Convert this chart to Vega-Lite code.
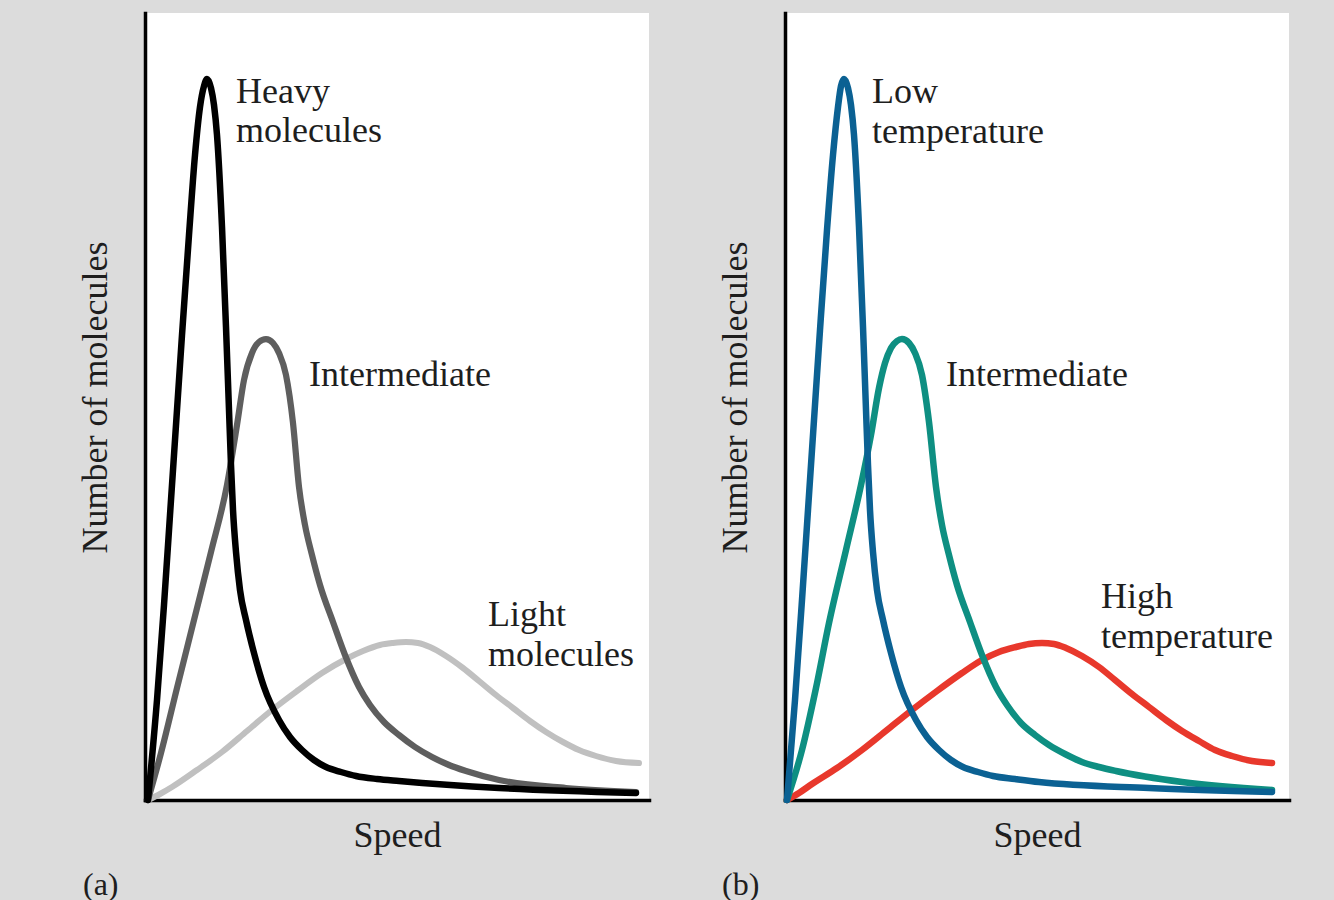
{
  "$schema": "https://vega.github.io/schema/vega-lite/v6.json",
  "background": "#dcdcdc",
  "padding": {"left": 77, "top": 13, "right": 60, "bottom": 30},
  "bounds": "flush",
  "spacing": 136,
  "config": {
    "view": {"fill": "white", "stroke": null},
    "font": "Liberation Serif",
    "axis": {
      "domainColor": "black", "domainWidth": 3.5, "domainCap": "square",
      "ticks": false, "labels": false, "grid": false,
      "titleFont": "Liberation Serif", "titleFontSize": 36, "titleFontWeight": "normal", "titleColor": "#1e1e1e"
    },
    "axisY": {"titlePadding": 31, "titleY": 384},
    "axisX": {"titlePadding": 18}
  },
  "resolve": {"scale": {"color": "independent", "strokeWidth": "independent"}},
  "datasets": {
    "curves": [
      {"panel": "a", "series": "Light", "speed": 3, "count": 0},
      {"panel": "a", "series": "Light", "speed": 15, "count": 6},
      {"panel": "a", "series": "Light", "speed": 27, "count": 13},
      {"panel": "a", "series": "Light", "speed": 52, "count": 30},
      {"panel": "a", "series": "Light", "speed": 77, "count": 48},
      {"panel": "a", "series": "Light", "speed": 102, "count": 69},
      {"panel": "a", "series": "Light", "speed": 127, "count": 90},
      {"panel": "a", "series": "Light", "speed": 152, "count": 109},
      {"panel": "a", "series": "Light", "speed": 177, "count": 127},
      {"panel": "a", "series": "Light", "speed": 201, "count": 141},
      {"panel": "a", "series": "Light", "speed": 218, "count": 149},
      {"panel": "a", "series": "Light", "speed": 235, "count": 155},
      {"panel": "a", "series": "Light", "speed": 248, "count": 157},
      {"panel": "a", "series": "Light", "speed": 261, "count": 158},
      {"panel": "a", "series": "Light", "speed": 273, "count": 157},
      {"panel": "a", "series": "Light", "speed": 285, "count": 153},
      {"panel": "a", "series": "Light", "speed": 301, "count": 144},
      {"panel": "a", "series": "Light", "speed": 318, "count": 132},
      {"panel": "a", "series": "Light", "speed": 334, "count": 119},
      {"panel": "a", "series": "Light", "speed": 351, "count": 105},
      {"panel": "a", "series": "Light", "speed": 368, "count": 92},
      {"panel": "a", "series": "Light", "speed": 385, "count": 79},
      {"panel": "a", "series": "Light", "speed": 401, "count": 68},
      {"panel": "a", "series": "Light", "speed": 418, "count": 58},
      {"panel": "a", "series": "Light", "speed": 434, "count": 50},
      {"panel": "a", "series": "Light", "speed": 451, "count": 44},
      {"panel": "a", "series": "Light", "speed": 471, "count": 39},
      {"panel": "a", "series": "Light", "speed": 494, "count": 37},

      {"panel": "a", "series": "Intermediate", "speed": 3, "count": 0},
      {"panel": "a", "series": "Intermediate", "speed": 16, "count": 47},
      {"panel": "a", "series": "Intermediate", "speed": 32, "count": 112},
      {"panel": "a", "series": "Intermediate", "speed": 49, "count": 180},
      {"panel": "a", "series": "Intermediate", "speed": 66, "count": 248},
      {"panel": "a", "series": "Intermediate", "speed": 82, "count": 315},
      {"panel": "a", "series": "Intermediate", "speed": 92, "count": 375},
      {"panel": "a", "series": "Intermediate", "speed": 99, "count": 420},
      {"panel": "a", "series": "Intermediate", "speed": 107, "count": 447},
      {"panel": "a", "series": "Intermediate", "speed": 114, "count": 458},
      {"panel": "a", "series": "Intermediate", "speed": 121, "count": 461},
      {"panel": "a", "series": "Intermediate", "speed": 128, "count": 457},
      {"panel": "a", "series": "Intermediate", "speed": 134, "count": 447},
      {"panel": "a", "series": "Intermediate", "speed": 141, "count": 425},
      {"panel": "a", "series": "Intermediate", "speed": 148, "count": 377},
      {"panel": "a", "series": "Intermediate", "speed": 154, "count": 313},
      {"panel": "a", "series": "Intermediate", "speed": 160, "count": 275},
      {"panel": "a", "series": "Intermediate", "speed": 167, "count": 245},
      {"panel": "a", "series": "Intermediate", "speed": 175, "count": 215},
      {"panel": "a", "series": "Intermediate", "speed": 188, "count": 178},
      {"panel": "a", "series": "Intermediate", "speed": 200, "count": 145},
      {"panel": "a", "series": "Intermediate", "speed": 214, "count": 113},
      {"panel": "a", "series": "Intermediate", "speed": 225, "count": 95},
      {"panel": "a", "series": "Intermediate", "speed": 239, "count": 78},
      {"panel": "a", "series": "Intermediate", "speed": 254, "count": 65},
      {"panel": "a", "series": "Intermediate", "speed": 270, "count": 53},
      {"panel": "a", "series": "Intermediate", "speed": 287, "count": 43},
      {"panel": "a", "series": "Intermediate", "speed": 304, "count": 35},
      {"panel": "a", "series": "Intermediate", "speed": 321, "count": 29},
      {"panel": "a", "series": "Intermediate", "speed": 354, "count": 20},
      {"panel": "a", "series": "Intermediate", "speed": 421, "count": 12},
      {"panel": "a", "series": "Intermediate", "speed": 491, "count": 8},

      {"panel": "a", "series": "Heavy", "speed": 3, "count": 0},
      {"panel": "a", "series": "Heavy", "speed": 12, "count": 100},
      {"panel": "a", "series": "Heavy", "speed": 19, "count": 195},
      {"panel": "a", "series": "Heavy", "speed": 25, "count": 285},
      {"panel": "a", "series": "Heavy", "speed": 31, "count": 375},
      {"panel": "a", "series": "Heavy", "speed": 37, "count": 465},
      {"panel": "a", "series": "Heavy", "speed": 44, "count": 565},
      {"panel": "a", "series": "Heavy", "speed": 50, "count": 645},
      {"panel": "a", "series": "Heavy", "speed": 55, "count": 693},
      {"panel": "a", "series": "Heavy", "speed": 59, "count": 714},
      {"panel": "a", "series": "Heavy", "speed": 62, "count": 721},
      {"panel": "a", "series": "Heavy", "speed": 66, "count": 712},
      {"panel": "a", "series": "Heavy", "speed": 69, "count": 695},
      {"panel": "a", "series": "Heavy", "speed": 72, "count": 665},
      {"panel": "a", "series": "Heavy", "speed": 77, "count": 573},
      {"panel": "a", "series": "Heavy", "speed": 81, "count": 473},
      {"panel": "a", "series": "Heavy", "speed": 84, "count": 390},
      {"panel": "a", "series": "Heavy", "speed": 86, "count": 335},
      {"panel": "a", "series": "Heavy", "speed": 88, "count": 290},
      {"panel": "a", "series": "Heavy", "speed": 91, "count": 248},
      {"panel": "a", "series": "Heavy", "speed": 95, "count": 210},
      {"panel": "a", "series": "Heavy", "speed": 101, "count": 180},
      {"panel": "a", "series": "Heavy", "speed": 109, "count": 147},
      {"panel": "a", "series": "Heavy", "speed": 119, "count": 113},
      {"panel": "a", "series": "Heavy", "speed": 134, "count": 80},
      {"panel": "a", "series": "Heavy", "speed": 145, "count": 63},
      {"panel": "a", "series": "Heavy", "speed": 157, "count": 50},
      {"panel": "a", "series": "Heavy", "speed": 169, "count": 40},
      {"panel": "a", "series": "Heavy", "speed": 181, "count": 33},
      {"panel": "a", "series": "Heavy", "speed": 196, "count": 28},
      {"panel": "a", "series": "Heavy", "speed": 211, "count": 24},
      {"panel": "a", "series": "Heavy", "speed": 232, "count": 21},
      {"panel": "a", "series": "Heavy", "speed": 254, "count": 19},
      {"panel": "a", "series": "Heavy", "speed": 354, "count": 12},
      {"panel": "a", "series": "Heavy", "speed": 491, "count": 7},

      {"panel": "b", "series": "High", "speed": 2, "count": 0},
      {"panel": "b", "series": "High", "speed": 14, "count": 7},
      {"panel": "b", "series": "High", "speed": 27, "count": 16},
      {"panel": "b", "series": "High", "speed": 52, "count": 32},
      {"panel": "b", "series": "High", "speed": 77, "count": 50},
      {"panel": "b", "series": "High", "speed": 102, "count": 70},
      {"panel": "b", "series": "High", "speed": 127, "count": 90},
      {"panel": "b", "series": "High", "speed": 152, "count": 109},
      {"panel": "b", "series": "High", "speed": 177, "count": 127},
      {"panel": "b", "series": "High", "speed": 197, "count": 140},
      {"panel": "b", "series": "High", "speed": 214, "count": 148},
      {"panel": "b", "series": "High", "speed": 231, "count": 153},
      {"panel": "b", "series": "High", "speed": 244, "count": 156},
      {"panel": "b", "series": "High", "speed": 257, "count": 157},
      {"panel": "b", "series": "High", "speed": 269, "count": 156},
      {"panel": "b", "series": "High", "speed": 281, "count": 152},
      {"panel": "b", "series": "High", "speed": 297, "count": 144},
      {"panel": "b", "series": "High", "speed": 314, "count": 133},
      {"panel": "b", "series": "High", "speed": 330, "count": 120},
      {"panel": "b", "series": "High", "speed": 347, "count": 106},
      {"panel": "b", "series": "High", "speed": 364, "count": 93},
      {"panel": "b", "series": "High", "speed": 381, "count": 80},
      {"panel": "b", "series": "High", "speed": 397, "count": 69},
      {"panel": "b", "series": "High", "speed": 414, "count": 59},
      {"panel": "b", "series": "High", "speed": 430, "count": 50},
      {"panel": "b", "series": "High", "speed": 447, "count": 44},
      {"panel": "b", "series": "High", "speed": 467, "count": 39},
      {"panel": "b", "series": "High", "speed": 487, "count": 37},

      {"panel": "b", "series": "Mid", "speed": 2, "count": 0},
      {"panel": "b", "series": "Mid", "speed": 17, "count": 50},
      {"panel": "b", "series": "Mid", "speed": 31, "count": 112},
      {"panel": "b", "series": "Mid", "speed": 44, "count": 177},
      {"panel": "b", "series": "Mid", "speed": 61, "count": 250},
      {"panel": "b", "series": "Mid", "speed": 76, "count": 315},
      {"panel": "b", "series": "Mid", "speed": 86, "count": 365},
      {"panel": "b", "series": "Mid", "speed": 94, "count": 412},
      {"panel": "b", "series": "Mid", "speed": 100, "count": 437},
      {"panel": "b", "series": "Mid", "speed": 106, "count": 452},
      {"panel": "b", "series": "Mid", "speed": 112, "count": 459},
      {"panel": "b", "series": "Mid", "speed": 117, "count": 461},
      {"panel": "b", "series": "Mid", "speed": 124, "count": 457},
      {"panel": "b", "series": "Mid", "speed": 130, "count": 447},
      {"panel": "b", "series": "Mid", "speed": 137, "count": 425},
      {"panel": "b", "series": "Mid", "speed": 144, "count": 378},
      {"panel": "b", "series": "Mid", "speed": 151, "count": 313},
      {"panel": "b", "series": "Mid", "speed": 157, "count": 275},
      {"panel": "b", "series": "Mid", "speed": 164, "count": 245},
      {"panel": "b", "series": "Mid", "speed": 172, "count": 215},
      {"panel": "b", "series": "Mid", "speed": 185, "count": 178},
      {"panel": "b", "series": "Mid", "speed": 197, "count": 145},
      {"panel": "b", "series": "Mid", "speed": 211, "count": 113},
      {"panel": "b", "series": "Mid", "speed": 222, "count": 95},
      {"panel": "b", "series": "Mid", "speed": 236, "count": 77},
      {"panel": "b", "series": "Mid", "speed": 250, "count": 65},
      {"panel": "b", "series": "Mid", "speed": 264, "count": 55},
      {"panel": "b", "series": "Mid", "speed": 280, "count": 46},
      {"panel": "b", "series": "Mid", "speed": 297, "count": 38},
      {"panel": "b", "series": "Mid", "speed": 314, "count": 33},
      {"panel": "b", "series": "Mid", "speed": 331, "count": 29},
      {"panel": "b", "series": "Mid", "speed": 397, "count": 18},
      {"panel": "b", "series": "Mid", "speed": 487, "count": 10},

      {"panel": "b", "series": "Low", "speed": 2, "count": 0},
      {"panel": "b", "series": "Low", "speed": 10, "count": 100},
      {"panel": "b", "series": "Low", "speed": 17, "count": 200},
      {"panel": "b", "series": "Low", "speed": 23, "count": 290},
      {"panel": "b", "series": "Low", "speed": 29, "count": 380},
      {"panel": "b", "series": "Low", "speed": 35, "count": 470},
      {"panel": "b", "series": "Low", "speed": 42, "count": 570},
      {"panel": "b", "series": "Low", "speed": 48, "count": 645},
      {"panel": "b", "series": "Low", "speed": 53, "count": 693},
      {"panel": "b", "series": "Low", "speed": 56, "count": 714},
      {"panel": "b", "series": "Low", "speed": 59, "count": 721},
      {"panel": "b", "series": "Low", "speed": 63, "count": 712},
      {"panel": "b", "series": "Low", "speed": 66, "count": 695},
      {"panel": "b", "series": "Low", "speed": 69, "count": 665},
      {"panel": "b", "series": "Low", "speed": 74, "count": 573},
      {"panel": "b", "series": "Low", "speed": 78, "count": 473},
      {"panel": "b", "series": "Low", "speed": 81, "count": 390},
      {"panel": "b", "series": "Low", "speed": 83, "count": 335},
      {"panel": "b", "series": "Low", "speed": 85, "count": 290},
      {"panel": "b", "series": "Low", "speed": 88, "count": 248},
      {"panel": "b", "series": "Low", "speed": 92, "count": 210},
      {"panel": "b", "series": "Low", "speed": 98, "count": 180},
      {"panel": "b", "series": "Low", "speed": 106, "count": 147},
      {"panel": "b", "series": "Low", "speed": 116, "count": 113},
      {"panel": "b", "series": "Low", "speed": 131, "count": 80},
      {"panel": "b", "series": "Low", "speed": 142, "count": 63},
      {"panel": "b", "series": "Low", "speed": 154, "count": 50},
      {"panel": "b", "series": "Low", "speed": 166, "count": 40},
      {"panel": "b", "series": "Low", "speed": 178, "count": 33},
      {"panel": "b", "series": "Low", "speed": 193, "count": 28},
      {"panel": "b", "series": "Low", "speed": 208, "count": 24},
      {"panel": "b", "series": "Low", "speed": 230, "count": 21},
      {"panel": "b", "series": "Low", "speed": 254, "count": 18},
      {"panel": "b", "series": "Low", "speed": 364, "count": 12},
      {"panel": "b", "series": "Low", "speed": 487, "count": 8}
    ],
    "labels": [
      {"panel": "a", "text": "Heavy", "speed": 91, "count": 697},
      {"panel": "a", "text": "molecules", "speed": 91, "count": 658},
      {"panel": "a", "text": "Intermediate", "speed": 164, "count": 414},
      {"panel": "a", "text": "Light", "speed": 343, "count": 174},
      {"panel": "a", "text": "molecules", "speed": 343, "count": 134},
      {"panel": "b", "text": "Low", "speed": 87, "count": 697},
      {"panel": "b", "text": "temperature", "speed": 87, "count": 657},
      {"panel": "b", "text": "Intermediate", "speed": 161, "count": 414},
      {"panel": "b", "text": "High", "speed": 316, "count": 192},
      {"panel": "b", "text": "temperature", "speed": 316, "count": 152}
    ]
  },
  "hconcat": [
    {
      "width": 504, "height": 787,
      "title": {"text": "(a)", "orient": "bottom", "anchor": "start", "dx": 6, "offset": 17, "fontSize": 32, "fontWeight": "normal", "font": "Liberation Serif", "color": "#1e1e1e"},
      "layer": [
        {
          "data": {"name": "curves"},
          "transform": [{"filter": "datum.panel == 'a'"}],
          "mark": {"type": "line", "interpolate": "monotone", "strokeCap": "round", "strokeJoin": "round"},
          "encoding": {
            "x": {"field": "speed", "type": "quantitative", "scale": {"domain": [0, 504], "nice": false}, "axis": {"title": "Speed"}},
            "y": {"field": "count", "type": "quantitative", "scale": {"domain": [0, 787], "nice": false}, "axis": {"title": "Number of molecules"}},
            "color": {"field": "series", "type": "nominal", "scale": {"domain": ["Light", "Intermediate", "Heavy"], "range": ["#c0c0c0", "#5e5e5e", "#000000"]}, "legend": null},
            "strokeWidth": {"field": "series", "type": "nominal", "scale": {"domain": ["Light", "Intermediate", "Heavy"], "range": [6, 6.5, 7.5]}, "legend": null}
          }
        },
        {
          "data": {"name": "labels"},
          "transform": [{"filter": "datum.panel == 'a'"}],
          "mark": {"type": "text", "align": "left", "baseline": "alphabetic", "fontSize": 36, "font": "Liberation Serif", "color": "#1e1e1e"},
          "encoding": {
            "x": {"field": "speed", "type": "quantitative"},
            "y": {"field": "count", "type": "quantitative"},
            "text": {"field": "text"}
          }
        }
      ]
    },
    {
      "width": 504, "height": 787,
      "title": {"text": "(b)", "orient": "bottom", "anchor": "start", "dx": 5, "offset": 17, "fontSize": 32, "fontWeight": "normal", "font": "Liberation Serif", "color": "#1e1e1e"},
      "layer": [
        {
          "data": {"name": "curves"},
          "transform": [{"filter": "datum.panel == 'b'"}],
          "mark": {"type": "line", "interpolate": "monotone", "strokeCap": "round", "strokeJoin": "round"},
          "encoding": {
            "x": {"field": "speed", "type": "quantitative", "scale": {"domain": [0, 504], "nice": false}, "axis": {"title": "Speed"}},
            "y": {"field": "count", "type": "quantitative", "scale": {"domain": [0, 787], "nice": false}, "axis": {"title": "Number of molecules"}},
            "color": {"field": "series", "type": "nominal", "scale": {"domain": ["High", "Mid", "Low"], "range": ["#e8382c", "#0e8f82", "#0b6193"]}, "legend": null},
            "strokeWidth": {"field": "series", "type": "nominal", "scale": {"domain": ["High", "Mid", "Low"], "range": [6.5, 6.5, 6.5]}, "legend": null}
          }
        },
        {
          "data": {"name": "labels"},
          "transform": [{"filter": "datum.panel == 'b'"}],
          "mark": {"type": "text", "align": "left", "baseline": "alphabetic", "fontSize": 36, "font": "Liberation Serif", "color": "#1e1e1e"},
          "encoding": {
            "x": {"field": "speed", "type": "quantitative"},
            "y": {"field": "count", "type": "quantitative"},
            "text": {"field": "text"}
          }
        }
      ]
    }
  ]
}
